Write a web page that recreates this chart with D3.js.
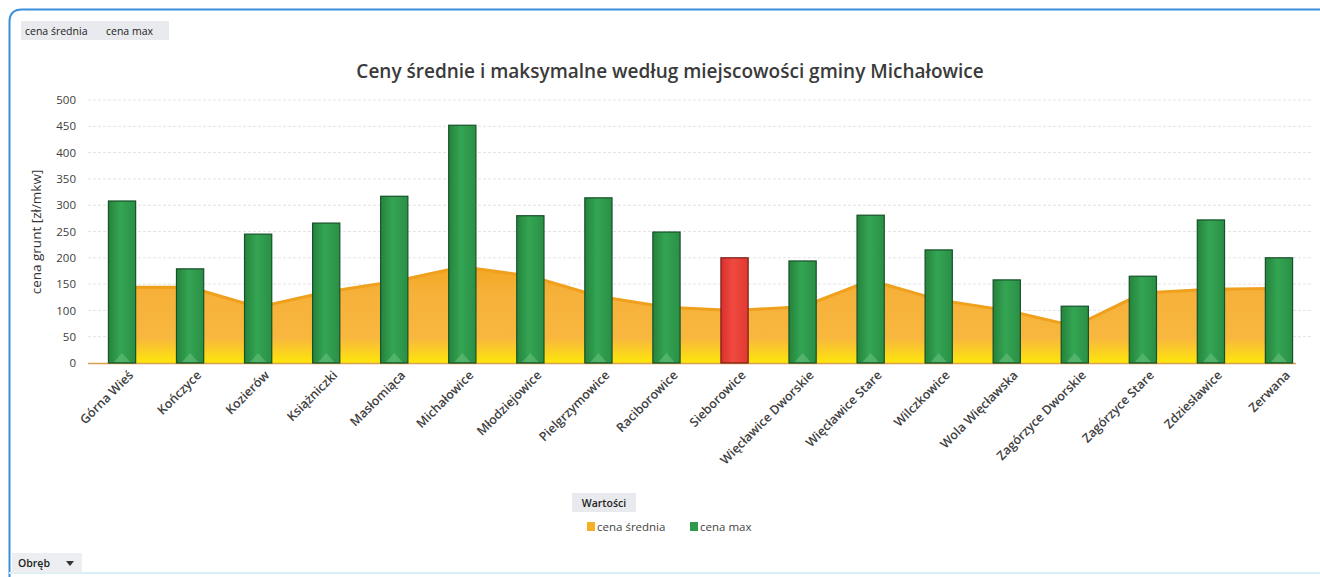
<!DOCTYPE html>
<html><head><meta charset="utf-8">
<script src="https://cdn.jsdelivr.net/npm/d3@7"></script>
<style>
html,body{margin:0;padding:0;background:#fff;}
svg{display:block;}
</style></head>
<body>
<svg id="c" width="1320" height="577"></svg>
<script>
const categories = ["Górna Wieś","Kończyce","Kozierów","Książniczki","Masłomiąca","Michałowice","Młodziejowice","Pielgrzymowice","Raciborowice","Sieborowice","Więcławice Dworskie","Więcławice Stare","Wilczkowice","Wola Więcławska","Zagórzyce Dworskie","Zagórzyce Stare","Zdziesławice","Zerwana"];
const cenaSrednia = [144,144,106,135,155,183,165,127,106,100,107,157,120,100,70,133,140,142];
const cenaMax = [308,179,245,266,317,452,280,314,249,200,194,281,215,158,108,165,272,200];
const highlighted = ["Sieborowice"];
const yTicks = [0,50,100,150,200,250,300,350,400,450,500];

const svg = d3.select("#c");
const font = "'Open Sans', 'Liberation Sans', sans-serif";

// frame
svg.append("path")
  .attr("d", "M9.5,590 L9.5,22 Q9.5,9.5 22,9.5 L1330,9.5")
  .attr("fill","none").attr("stroke","#3b8fdc").attr("stroke-width",2);
svg.append("line").attr("x1",9).attr("x2",1320).attr("y1",573).attr("y2",573)
  .attr("stroke","#d8f1f6").attr("stroke-width",2);

const x = d3.scaleBand().domain(categories).range([88,1313]).paddingInner(0.6).paddingOuter(0.3);
const y = d3.scaleLinear().domain([0,500]).range([363,100]);

const defs = svg.append("defs");
const ag = defs.append("linearGradient").attr("id","ag").attr("gradientUnits","userSpaceOnUse")
  .attr("x1",0).attr("x2",0).attr("y1",y(190)).attr("y2",y(0));
ag.append("stop").attr("offset","0%").attr("stop-color","#f3a51f");
ag.append("stop").attr("offset","30%").attr("stop-color","#f6b13a");
ag.append("stop").attr("offset","75%").attr("stop-color","#f8b73e");
ag.append("stop").attr("offset","88%").attr("stop-color","#fbcf24");
ag.append("stop").attr("offset","100%").attr("stop-color","#fde70a");

const gg = defs.append("linearGradient").attr("id","gg").attr("x1","0%").attr("x2","100%");
gg.append("stop").attr("offset","0%").attr("stop-color","#25833c");
gg.append("stop").attr("offset","45%").attr("stop-color","#34a553");
gg.append("stop").attr("offset","100%").attr("stop-color","#2a8f45");
const rg = defs.append("linearGradient").attr("id","rg").attr("x1","0%").attr("x2","100%");
rg.append("stop").attr("offset","0%").attr("stop-color","#d9302d");
rg.append("stop").attr("offset","45%").attr("stop-color","#f04a40");
rg.append("stop").attr("offset","100%").attr("stop-color","#e0392f");

// gridlines
svg.append("g").selectAll("line").data(yTicks.slice(1)).join("line")
  .attr("x1",88).attr("x2",1313).attr("y1",d=>y(d)).attr("y2",d=>y(d))
  .attr("stroke","#e3e3e3").attr("stroke-width",1).attr("stroke-dasharray","3,2");

// y axis
const yAxis = svg.append("g").attr("transform","translate(88,0)")
  .call(d3.axisLeft(y).tickValues(yTicks).tickSize(0).tickPadding(12));
yAxis.select(".domain").remove();
yAxis.selectAll("text").attr("font-family",font).attr("font-size",11.5).attr("fill","#404040");

// area
const cx = d => x(d) + x.bandwidth()/2;
const area = d3.area().x((d,i)=>cx(categories[i])).y0(y(0)).y1(d=>y(d));
const line = d3.line().x((d,i)=>cx(categories[i])).y(d=>y(d));
svg.append("path").datum(cenaSrednia).attr("d",area).attr("fill","url(#ag)");
svg.append("path").datum(cenaSrednia).attr("d",line).attr("fill","none")
  .attr("stroke","#efa01c").attr("stroke-width",3);

// baseline
svg.append("line").attr("x1",88).attr("x2",1296).attr("y1",y(0)+0.5).attr("y2",y(0)+0.5)
  .attr("stroke","#d9a050").attr("stroke-width",1.5);

// bars
const bars = svg.append("g").selectAll("g").data(categories).join("g");
bars.append("rect")
  .attr("x",d=>x(d)).attr("width",x.bandwidth())
  .attr("y",(d,i)=>y(cenaMax[i])).attr("height",(d,i)=>y(0)-y(cenaMax[i]))
  .attr("fill",d=>highlighted.includes(d)?"url(#rg)":"url(#gg)")
  .attr("stroke",d=>highlighted.includes(d)?"#7a1d17":"#17502a").attr("stroke-width",1.2);
bars.filter(d=>!highlighted.includes(d)).append("path")
  .attr("d",d=>{const c=cx(d), b=y(0)-1; return `M${c-8},${b} L${c},${b-9} L${c+8},${b} Z`;})
  .attr("fill","#5dbb73").attr("opacity",0.7);

// x labels
svg.append("g").selectAll("text").data(categories).join("text")
  .attr("transform",d=>`translate(${cx(d)+12},${y(0)+13}) rotate(-45)`)
  .attr("text-anchor","end").attr("font-family",font).attr("font-size",12.5)
  .attr("font-weight",600).attr("fill","#404040").text(d=>d);

// y title
svg.append("text").attr("transform","translate(41,232) rotate(-90)")
  .attr("text-anchor","middle").attr("font-family",font).attr("font-size",13.5)
  .attr("fill","#333").text("cena  grunt [zł/mkw]");

// title
svg.append("text").attr("x",670).attr("y",78).attr("text-anchor","middle")
  .attr("font-family",font).attr("font-size",19).attr("font-weight",600)
  .attr("fill","#3a3a3a").text("Ceny średnie i maksymalne  według miejscowości gminy Michałowice");

// top-left field buttons
svg.append("rect").attr("x",21).attr("y",21).attr("width",148).attr("height",19).attr("fill","#e9eaee");
svg.append("text").attr("x",25).attr("y",35).attr("font-family",font).attr("font-size",10.5)
  .attr("fill","#222").text("cena średnia");
svg.append("text").attr("x",106).attr("y",35).attr("font-family",font).attr("font-size",10.5)
  .attr("fill","#222").text("cena max");

// legend
svg.append("rect").attr("x",572).attr("y",493).attr("width",64).attr("height",19).attr("fill","#e9eaee");
svg.append("text").attr("x",604).attr("y",507).attr("text-anchor","middle").attr("font-family",font)
  .attr("font-size",10.5).attr("font-weight",600).attr("fill","#222").text("Wartości");
const legendItems = [{name:"cena średnia",color:"#f2b126",x:587},{name:"cena max",color:"#2f9a4c",x:690}];
const lg = svg.append("g").selectAll("g").data(legendItems).join("g");
lg.append("rect").attr("x",d=>d.x).attr("y",522).attr("width",8).attr("height",9).attr("fill",d=>d.color);
lg.append("text").attr("x",d=>d.x+10).attr("y",531).attr("font-family",font).attr("font-size",11.5)
  .attr("fill","#444").text(d=>d.name);

// bottom-left button
svg.append("rect").attr("x",12).attr("y",553).attr("width",70).attr("height",20).attr("fill","#eceef1");
svg.append("text").attr("x",18).attr("y",567).attr("font-family",font).attr("font-size",10.5)
  .attr("font-weight",600).attr("fill","#222").text("Obręb");
svg.append("path").attr("d","M66,561 L74,561 L70,566 Z").attr("fill","#333");
</script>
</body></html>
